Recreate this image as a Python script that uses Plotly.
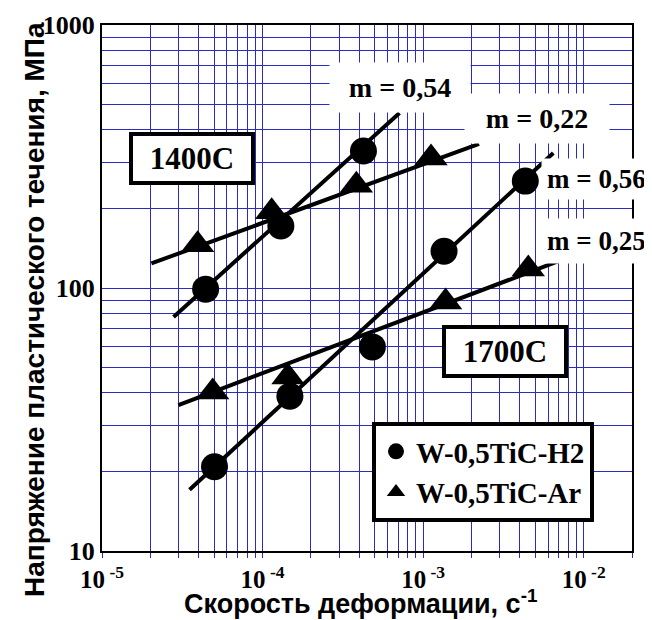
import plotly.graph_objects as go
import numpy as np

# ---- data ----
# 1400C
x_h2_1400 = [4.42e-5, 1.30e-4, 4.25e-4]
y_h2_1400 = [99, 172, 332]
x_ar_1400 = [3.94e-5, 1.14e-4, 3.84e-4, 1.12e-3]
y_ar_1400 = [146, 195, 246, 312]
# 1700C
x_h2_1700 = [5.02e-5, 1.48e-4, 4.83e-4, 1.35e-3, 4.33e-3]
y_h2_1700 = [20.9, 38.8, 59.7, 138, 255]
x_ar_1700 = [4.89e-5, 1.44e-4, 1.38e-3, 4.52e-3]
y_ar_1700 = [40.2, 45.9, 88.5, 118]

# fitted power-law lines (end points)
fit_h2_1400_x = [2.79e-5, 7.13e-4]
fit_h2_1400_y = [77.6, 463]
fit_ar_1400_x = [2.03e-5, 2.23e-3]
fit_ar_1400_y = [124, 353]
fit_h2_1700_x = [3.51e-5, 6.47e-3]
fit_h2_1700_y = [17.1, 326]
fit_ar_1700_x = [2.99e-5, 7.59e-3]
fit_ar_1700_y = [35.9, 129]

m_labels = ["m = 0,54", "m = 0,22", "m = 0,56", "m = 0,25"]
temp_labels = ["1400C", "1700C"]
series_names = ["W-0,5TiC-H2", "W-0,5TiC-Ar"]

x_major = [1e-5, 1e-4, 1e-3, 1e-2]
x_major_text = ["<b>10<sup> -5</sup></b>", "<b>10<sup> -4</sup></b>",
                "<b>10<sup> -3</sup></b>", "<b>10<sup> -2</sup></b>"]
y_major = [10, 100, 1000]
y_major_text = ["<b>10</b>", "<b>100</b>", "<b>1000</b>"]

# ---- ticks / grid ----
def log_ticks(lo_exp, hi_val, majors, major_text):
    vals, texts = [], []
    for e in range(lo_exp, 4):
        for d in range(1, 10):
            v = d * 10.0 ** e
            if v > hi_val * 1.0001:
                break
            vals.append(v)
            lbl = ""
            for mv, mt in zip(majors, major_text):
                if abs(v - mv) / mv < 1e-6:
                    lbl = mt
            texts.append(lbl)
    return vals, texts

xv, xt = log_ticks(-5, 2e-2, x_major, x_major_text)
yv, yt = log_ticks(1, 1000, y_major, y_major_text)

GRID = "#2a2ac4"
SERIF = "Liberation Serif"
SANS = "Liberation Sans"

fig = go.Figure()

line_style = dict(color="black", width=4)
for fx, fy in [(fit_h2_1400_x, fit_h2_1400_y), (fit_ar_1400_x, fit_ar_1400_y),
               (fit_h2_1700_x, fit_h2_1700_y), (fit_ar_1700_x, fit_ar_1700_y)]:
    fig.add_trace(go.Scatter(x=fx, y=fy, mode="lines", line=line_style,
                             showlegend=False, hoverinfo="skip"))

fig.add_trace(go.Scatter(x=x_h2_1400 + x_h2_1700, y=y_h2_1400 + y_h2_1700,
                         mode="markers", name=series_names[0],
                         marker=dict(symbol="circle", size=27, color="black")))
fig.add_trace(go.Scatter(x=x_ar_1400 + x_ar_1700, y=y_ar_1400 + y_ar_1700,
                         mode="markers", name=series_names[1],
                         marker=dict(symbol="triangle-up", size=29, color="black")))

# page has an 8px body margin; size figure to fit the window
OFF = 8
W, H = 652 - OFF, 620 - OFF
# plot area in screen pixels: x 102..632, y 25..551
SL, SR, ST, SB = 102, 632, 25, 551
L, R, T, B = SL - OFF, W - (SR - OFF), ST - OFF, H - (SB - OFF)
pw, ph = SR - SL, SB - ST

def px(xs):
    return (xs - SL) / pw

def py(ys):
    return (SB - ys) / ph

annotations = []
# m labels with white backgrounds (x center, y center, box width, padding, font size)
m_pos = [(400, 88, 122, 9, 28), (537, 119, 126, 9, 28),
         (596, 179, None, 5, 27), (596, 241, None, 7, 27)]
for txt, (cx, cy, w, pad, fs) in zip(m_labels, m_pos):
    a = dict(xref="paper", yref="paper", x=px(cx), y=py(cy),
             xanchor="center", yanchor="middle",
             text="<b>" + txt + "</b>", showarrow=False, bgcolor="white",
             borderpad=pad,
             font=dict(family=SERIF, size=fs, color="black"))
    if w:
        a["width"] = w
    annotations.append(a)
# temperature boxes
for txt, (cx, cy) in zip(temp_labels, [(192, 159), (505, 352)]):
    annotations.append(dict(xref="paper", yref="paper", x=px(cx), y=py(cy),
                            xanchor="center", yanchor="middle",
                            text="<b>" + txt + "</b>", showarrow=False, bgcolor="white",
                            bordercolor="black", borderwidth=4, borderpad=5,
                            width=108,
                            font=dict(family=SERIF, size=31, color="black")))
# axis titles
annotations.append(dict(xref="paper", yref="paper", x=px(360), y=py(602),
                        text="<b>Скорость деформации, с<sup>-1</sup></b>", showarrow=False,
                        xanchor="center", yanchor="middle",
                        font=dict(family=SANS, size=27, color="black")))
annotations.append(dict(xref="paper", yref="paper", x=px(34), y=py(310),
                        text="<b>Напряжение пластического течения, МПа</b>", showarrow=False,
                        textangle=-90, xanchor="center", yanchor="middle",
                        font=dict(family=SANS, size=28, color="black")))

axis_common = dict(type="log", tickmode="array", showgrid=True, gridcolor=GRID,
                   gridwidth=1, zeroline=False, showline=True, linecolor="black",
                   linewidth=2, mirror=True, tickangle=0)

fig.update_xaxes(range=[-5, np.log10(2e-2)], tickvals=xv, ticktext=xt,
                 ticks="outside", ticklen=5, tickcolor=GRID,
                 tickfont=dict(family=SERIF, size=25, color="black"), **axis_common)
fig.update_yaxes(range=[1, 3], tickvals=yv, ticktext=yt, ticks="",
                 tickfont=dict(family=SERIF, size=26, color="black"), **axis_common)

fig.update_layout(
    width=W, height=H,
    margin=dict(l=L, r=R, t=T, b=B, autoexpand=False),
    paper_bgcolor="white", plot_bgcolor="white",
    annotations=annotations,
    showlegend=True,
    legend=dict(x=px(372), y=py(422), xanchor="left", yanchor="top",
                bgcolor="white", bordercolor="black", borderwidth=4,
                font=dict(family=SERIF, size=29, color="black", weight="bold"),
                itemsizing="trace"),
)

fig.write_html("out.html")
